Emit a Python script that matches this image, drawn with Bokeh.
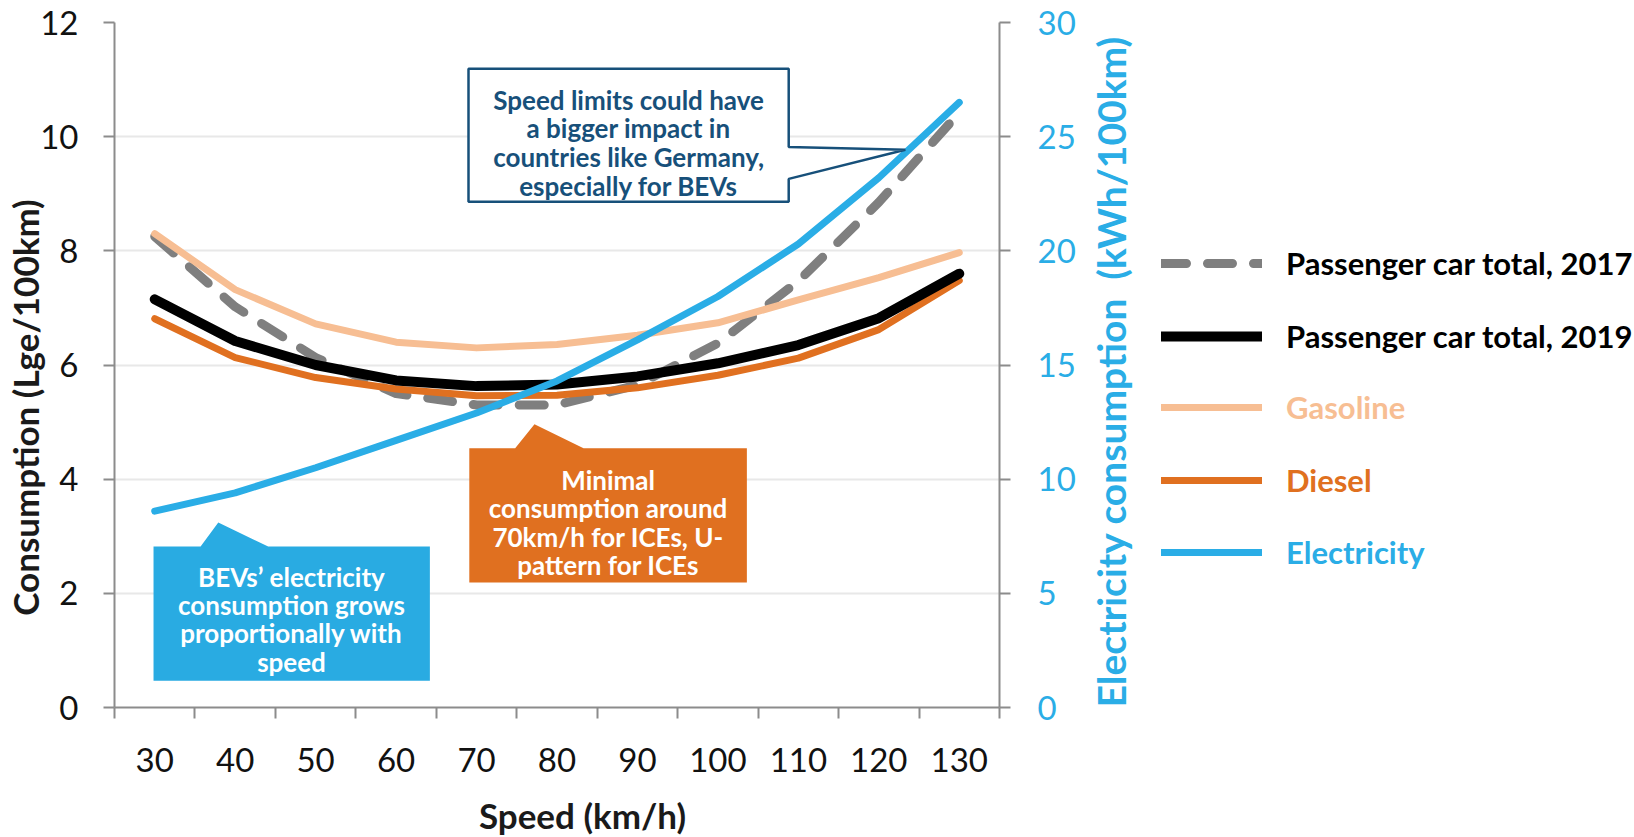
from bokeh.plotting import figure
from bokeh.layouts import row
from bokeh.models import Range1d, LinearAxis, FixedTicker, Legend, LegendItem, Label
from bokeh.embed import file_html
from bokeh.resources import INLINE
import math

# ---------------- data ----------------
speeds = [30, 40, 50, 60, 70, 80, 90, 100, 110, 120, 130]
total_2017 = [8.25, 7.02, 6.13, 5.50, 5.30, 5.30, 5.65, 6.38, 7.47, 8.85, 10.42]
total_2019 = [7.15, 6.42, 6.00, 5.73, 5.63, 5.66, 5.80, 6.03, 6.35, 6.82, 7.60]
gasoline = [8.30, 7.32, 6.72, 6.40, 6.30, 6.36, 6.52, 6.74, 7.14, 7.53, 7.97]
diesel = [6.81, 6.13, 5.78, 5.58, 5.46, 5.47, 5.60, 5.82, 6.12, 6.62, 7.48]
electricity = [8.6, 9.4, 10.5, 11.7, 12.9, 14.3, 16.1, 18.0, 20.3, 23.2, 26.5]

left_ticks = [0, 2, 4, 6, 8, 10, 12]
right_ticks = [0, 5, 10, 15, 20, 25, 30]

series_names = ["Passenger car total, 2017", "Passenger car total, 2019",
                "Gasoline", "Diesel", "Electricity"]

# ---------------- style ----------------
GRAY = "#7F7F7F"
BLACK = "#000000"
GAS = "#F7BE93"
DIESEL = "#E07020"
ELEC = "#2AADE6"
NAVY = "#17507A"
AXIS = "#8C8C8C"
FONT = "Lato"
NB = "\u00a0"

xs = list(range(len(speeds)))

P_RIGHT = 144
p = figure(frame_width=885, frame_height=685,
           min_border_left=114, min_border_top=22,
           min_border_right=P_RIGHT, min_border_bottom=130,
           x_range=Range1d(-0.5, len(speeds) - 0.5),
           y_range=Range1d(0, 12),
           output_backend="svg", toolbar_location=None,
           background_fill_color="white", border_fill_color="white")
p.extra_y_ranges = {"elec": Range1d(0, 30)}
p.outline_line_color = None

# grid
p.xgrid.visible = False
p.ygrid.ticker = FixedTicker(ticks=left_ticks)
p.ygrid.grid_line_color = "#E8E8E8"
p.ygrid.grid_line_width = 2

# bottom axis
xa = p.xaxis[0]
xa.ticker = FixedTicker(ticks=xs, minor_ticks=[i - 0.5 for i in range(len(speeds) + 1)])
xa.major_label_overrides = {i: str(s) for i, s in zip(xs, speeds)}
xa.major_tick_out = 0
xa.major_tick_in = 0
xa.minor_tick_out = 11
xa.minor_tick_in = 0
xa.minor_tick_line_color = AXIS
xa.minor_tick_line_width = 2
xa.axis_line_color = AXIS
xa.axis_line_width = 2
xa.major_label_text_font = FONT
xa.major_label_text_font_size = "33px"
xa.major_label_text_color = "#111111"
xa.major_label_standoff = 29
xa.axis_label = NB * 6 + "Speed (km/h)"
xa.axis_label_text_font = FONT
xa.axis_label_text_font_style = "bold"
xa.axis_label_text_font_size = "35px"
xa.axis_label_text_color = "#1a1a1a"
xa.axis_label_standoff = 19

# left axis
ya = p.yaxis[0]
ya.ticker = FixedTicker(ticks=left_ticks)
ya.major_tick_out = 11
ya.major_tick_in = 0
ya.minor_tick_out = 0
ya.minor_tick_in = 0
ya.major_tick_line_color = AXIS
ya.major_tick_line_width = 2
ya.axis_line_color = AXIS
ya.axis_line_width = 2
ya.major_label_text_font = FONT
ya.major_label_text_font_size = "33px"
ya.major_label_text_color = "#111111"
ya.major_label_standoff = 25
ya.axis_label = "Consumption (Lge/100km)" + NB * 10
ya.axis_label_text_font = FONT
ya.axis_label_text_font_style = "bold"
ya.axis_label_text_font_size = "35px"
ya.axis_label_text_color = "#1a1a1a"
ya.axis_label_standoff = -9

# right axis
ra = LinearAxis(y_range_name="elec", ticker=FixedTicker(ticks=right_ticks))
ra.major_tick_out = 11
ra.major_tick_in = 0
ra.minor_tick_out = 0
ra.minor_tick_in = 0
ra.major_tick_line_color = AXIS
ra.major_tick_line_width = 2
ra.axis_line_color = AXIS
ra.axis_line_width = 2
ra.major_label_text_font = FONT
ra.major_label_text_font_size = "33px"
ra.major_label_text_color = ELEC
ra.major_label_standoff = 27
ra.axis_label = "Electricity consumption\u00a0 (kWh/100km)"
ra.axis_label_text_font = FONT
ra.axis_label_text_font_style = "bold"
ra.axis_label_text_font_size = "39px"
ra.axis_label_text_color = ELEC
ra.axis_label_standoff = 32
ra.axis_label_orientation = math.pi / 2
try:
    ra.axis_label_align = "start"
except AttributeError:
    pass
p.add_layout(ra, "right")

# ---------------- lines ----------------
styles = {
    "2017": dict(line_color=GRAY, line_width=9, line_dash="25 21"),
    "2019": dict(line_color=BLACK, line_width=10),
    "gas": dict(line_color=GAS, line_width=7),
    "die": dict(line_color=DIESEL, line_width=7),
    "elec": dict(line_color=ELEC, line_width=7),
}
common = dict(line_cap="round", line_join="round")
p.line(xs, total_2017, **styles["2017"], **common)
p.line(xs, gasoline, **styles["gas"], **common)
p.line(xs, diesel, **styles["die"], **common)
p.line(xs, total_2019, **styles["2019"], **common)
p.line(xs, electricity, y_range_name="elec", **styles["elec"], **common)

# ---------------- callout boxes ----------------
p.patch([3.90, 7.88, 7.88, 9.33, 7.88, 7.88, 3.90],
        [11.19, 11.19, 9.82, 9.77, 9.26, 8.86, 8.86],
        fill_color="white", line_color=NAVY, line_width=2.5)
p.patch([3.91, 4.48, 4.72, 5.33, 7.36, 7.36, 3.91],
        [4.54, 4.54, 4.96, 4.54, 4.54, 2.19, 2.19],
        fill_color=DIESEL, line_color=None)
p.patch([-0.015, 0.57, 0.79, 1.41, 3.42, 3.42, -0.015],
        [2.82, 2.82, 3.24, 2.82, 2.82, 0.47, 0.47],
        fill_color="#29ABE2", line_color=None)


def add_lines(lines, xc, ys, color):
    for t, yy in zip(lines, ys):
        p.add_layout(Label(x=xc, y=yy, text=t, text_align="center",
                           text_baseline="middle", text_font=FONT,
                           text_font_style="bold", text_font_size="26px",
                           text_color=color))


add_lines(["Speed limits could have", "a bigger impact in",
           "countries like Germany,", "especially for BEVs"],
          5.89, [10.65, 10.16, 9.65, 9.14], NAVY)
add_lines(["Minimal", "consumption around",
           "70km/h for ICEs, U-", "pattern for ICEs"],
          5.635, [3.99, 3.49, 2.99, 2.50], "white")
add_lines(["BEVs\u2019 electricity", "consumption grows",
           "proportionally with", "speed"],
          1.70, [2.28, 1.79, 1.30, 0.79], "white")

# ---------------- legend panel ----------------
P_WIDTH = 114 + 885 + P_RIGHT
lf = figure(width=1634 - P_WIDTH, height=837, x_range=Range1d(1000, 1001),
            y_range=Range1d(1000, 1001),
            x_axis_type=None, y_axis_type=None, output_backend="svg",
            toolbar_location=None, min_border=0, min_border_left=0,
            min_border_right=0, min_border_top=0, min_border_bottom=0,
            background_fill_color="white", border_fill_color="white")
lf.outline_line_color = None
lf.grid.visible = False

r2017 = lf.line(xs, total_2017, **styles["2017"], **common)
r2019 = lf.line(xs, total_2019, **styles["2019"], **common)
rgas = lf.line(xs, gasoline, **styles["gas"], **common)
rdie = lf.line(xs, diesel, **styles["die"], **common)
relec = lf.line(xs, electricity, **styles["elec"], **common)

legend_rows = [
    (series_names[0], r2017, "#000000", 264),
    (series_names[1], r2019, "#000000", 337),
    (series_names[2], rgas, GAS, 408),
    (series_names[3], rdie, DIESEL, 481),
    (series_names[4], relec, ELEC, 553),
]
FRAME_BOTTOM = 707
for name, rend, col, yc in legend_rows:
    leg = Legend(items=[LegendItem(label=name, renderers=[rend])],
                 location=(1145 - P_WIDTH, FRAME_BOTTOM - (yc + 20)),
                 padding=0, margin=0, spacing=0,
                 glyph_width=101, glyph_height=40, label_height=40,
                 label_standoff=24, border_line_color=None,
                 background_fill_alpha=0,
                 label_text_font=FONT, label_text_font_style="bold",
                 label_text_font_size="31px", label_text_color=col)
    lf.add_layout(leg)

layout = row(p, lf)
open("out.html", "w").write(file_html(layout, INLINE))
